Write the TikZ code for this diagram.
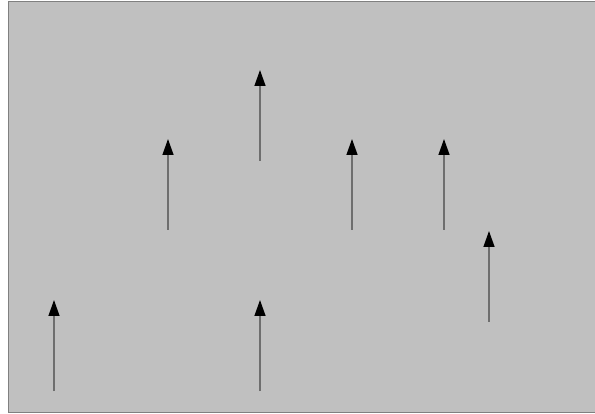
\documentclass[tikz,border=0pt]{standalone}
\usetikzlibrary{arrows.meta}
\definecolor{bgc}{HTML}{C0C0C0}
\definecolor{brd}{HTML}{808080}
\definecolor{shaft}{HTML}{6E6E6E}
\begin{document}
\begin{tikzpicture}[x=1pt,y=-1pt,
  vec/.style={draw=shaft,line width=1.4pt,-{Triangle[length=16pt,width=11pt,color=black]}}]
\useasboundingbox (0,0) rectangle (595,414);
\draw[fill=bgc,draw=brd,line width=1.5pt] (8.5,1.5) rectangle (598,412.5);
\foreach \n/\x/\y in {a/54/300, b/260/300, c/168/139, d/260/70, e/352/139, f/444/139, g/489/231}{
  \coordinate (\n0) at (\x,\y+91);
  \coordinate (\n1) at (\x,\y);
  \draw[vec] (\n0) -- (\n1);
}
\end{tikzpicture}
\end{document}
